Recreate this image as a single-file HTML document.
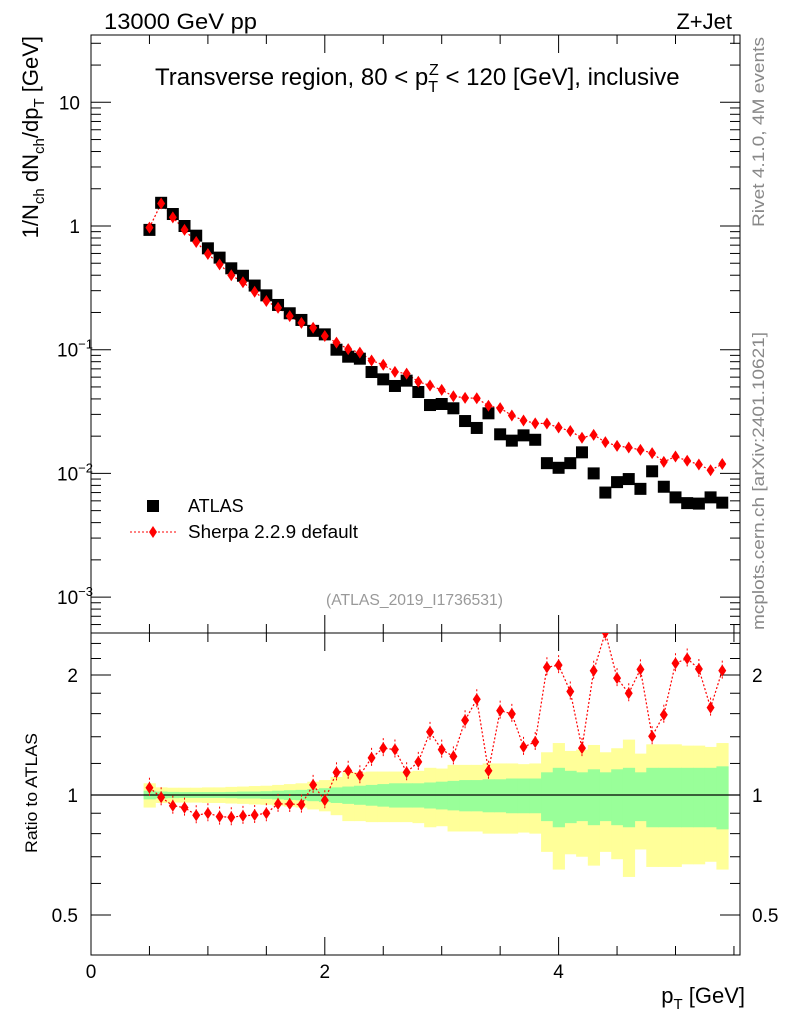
<!DOCTYPE html>
<html><head><meta charset="utf-8"><style>
body{margin:0;background:#fff}
svg{display:block;font-family:"Liberation Sans",sans-serif}
</style></head><body>
<svg id="chart" width="786" height="1024" viewBox="0 0 786 1024" xmlns="http://www.w3.org/2000/svg">
<defs>
<clipPath id="mainClip"><rect x="91" y="35" width="649" height="598"/></clipPath>
<clipPath id="ratioClip"><rect x="91" y="633" width="649" height="322"/></clipPath>
</defs>
<g id="bands" clip-path="url(#ratioClip)"></g>
<rect x="91" y="35" width="649" height="598" fill="none" stroke="#000" stroke-width="1"/>
<rect x="91" y="633" width="649" height="322" fill="none" stroke="#000" stroke-width="1"/>
<line x1="91" x2="740" y1="795" y2="795" stroke="#000" stroke-width="1.2"/>
<g id="ticks"></g>
<g id="mainMarks" clip-path="url(#mainClip)"></g>
<g id="ratioMarks" clip-path="url(#ratioClip)"></g>
<text x="104" y="29" font-size="22" textLength="153" lengthAdjust="spacingAndGlyphs">13000 GeV pp</text>
<text x="732" y="29" font-size="22" text-anchor="end">Z+Jet</text>
<text x="155" y="85" font-size="24">Transverse region, 80 &lt; p<tspan font-size="16" dy="7">T</tspan><tspan font-size="16" dx="-9" dy="-17">Z</tspan><tspan dy="10"> &lt; 120 [GeV], inclusive</tspan></text>
<text transform="translate(38,36) rotate(-90)" font-size="22" text-anchor="end">1/N<tspan font-size="15" dy="6">ch</tspan><tspan dy="-6"> dN</tspan><tspan font-size="15" dy="6">ch</tspan><tspan dy="-6">/dp</tspan><tspan font-size="15" dy="6">T</tspan><tspan dy="-6"> [GeV]</tspan></text>
<text transform="translate(764,227) rotate(-90)" font-size="17" fill="#888" textLength="190" lengthAdjust="spacingAndGlyphs">Rivet 4.1.0,  4M events</text>
<text transform="translate(764,630) rotate(-90)" font-size="17" fill="#888" textLength="298" lengthAdjust="spacingAndGlyphs">mcplots.cern.ch [arXiv:2401.10621]</text>
<text x="326" y="605" font-size="16" fill="#999" textLength="177" lengthAdjust="spacingAndGlyphs">(ATLAS_2019_I1736531)</text>
<rect x="147" y="500" width="12" height="12" fill="#000"/>
<text x="188" y="512" font-size="18">ATLAS</text>
<line x1="130" x2="177" y1="532" y2="532" stroke="#f00" stroke-dasharray="2,2"/>
<polygon points="153,526 157,532 153,538 149,532" fill="#f00"/>
<text x="188" y="538" font-size="18" textLength="170" lengthAdjust="spacingAndGlyphs">Sherpa 2.2.9 default</text>
<text transform="translate(37,853) rotate(-90)" font-size="17" textLength="120" lengthAdjust="spacingAndGlyphs">Ratio to ATLAS</text>
<text x="745" y="1003" font-size="22" text-anchor="end">p<tspan font-size="15" dy="6">T</tspan><tspan dy="-6"> [GeV]</tspan></text>
</svg>
<script>
const xCenters=[0.5,0.6,0.7,0.8,0.9,1.0,1.1,1.2,1.3,1.4,1.5,1.6,1.7,1.8,1.9,2.0,2.1,2.2,2.3,2.4,2.5,2.6,2.7,2.8,2.9,3.0,3.1,3.2,3.3,3.4,3.5,3.6,3.7,3.8,3.9,4.0,4.1,4.2,4.3,4.4,4.5,4.6,4.7,4.8,4.9,5.0,5.1,5.2,5.3,5.4];
const atlas=[0.93,1.54,1.25,1.0,0.835,0.66,0.555,0.455,0.396,0.33,0.275,0.23,0.197,0.174,0.142,0.133,0.1,0.0878,0.0846,0.066,0.0576,0.0509,0.0562,0.0455,0.0357,0.0364,0.0336,0.0265,0.0233,0.0306,0.0207,0.0184,0.0203,0.0187,0.0121,0.0111,0.0121,0.0148,0.0100,0.0070,0.0085,0.0090,0.0075,0.0104,0.0078,0.0064,0.00575,0.0057,0.0064,0.0058];
const sherpa=[0.97,1.52,1.175,0.93,0.743,0.594,0.49,0.40,0.351,0.294,0.2475,0.2185,0.187,0.1646,0.1505,0.129,0.114,0.101,0.0948,0.0818,0.0755,0.0662,0.0641,0.0551,0.0514,0.0473,0.042,0.0408,0.0405,0.0352,0.0337,0.0294,0.0268,0.0254,0.0253,0.0235,0.022,0.0194,0.0205,0.0179,0.0167,0.0162,0.0155,0.0146,0.0124,0.0137,0.01265,0.0118,0.0106,0.0119];
const errTotal=[0.07,0.045,0.043,0.043,0.043,0.045,0.045,0.048,0.05,0.053,0.055,0.06,0.065,0.07,0.08,0.09,0.11,0.14,0.14,0.145,0.145,0.145,0.145,0.15,0.17,0.165,0.19,0.19,0.19,0.2,0.2,0.2,0.195,0.2,0.28,0.35,0.29,0.3,0.335,0.28,0.31,0.377,0.27,0.34,0.34,0.34,0.33,0.33,0.32,0.35];
const errStat=[0.025,0.02,0.018,0.017,0.017,0.017,0.017,0.018,0.02,0.02,0.022,0.025,0.028,0.03,0.035,0.04,0.045,0.05,0.055,0.06,0.065,0.07,0.07,0.07,0.075,0.08,0.085,0.09,0.09,0.095,0.095,0.1,0.1,0.1,0.14,0.17,0.15,0.14,0.16,0.14,0.16,0.17,0.14,0.17,0.17,0.17,0.17,0.17,0.17,0.18];
const xTickLabels=[0,2,4];
const mainTickExps=[1,0,-1,-2,-3];
const ratioTickLabels=[2,1,0.5];

const NS="http://www.w3.org/2000/svg";
const X=v=>91+v*116.9;
const Y=v=>226-123.7*Math.log10(v);
const R=v=>795-120*Math.log2(v);
const bw=0.1;
function mk(tag,attrs,parent){const e=document.createElementNS(NS,tag);for(const k in attrs)e.setAttribute(k,attrs[k]);parent.appendChild(e);return e;}
const bands=document.getElementById('bands'),ticks=document.getElementById('ticks');
const mm=document.getElementById('mainMarks'),rm=document.getElementById('ratioMarks');

xCenters.forEach((x,i)=>{
  const y=mk('rect',{x:X(x-bw/2),y:R(1+errTotal[i]),width:X(x+bw/2)-X(x-bw/2)+0.5,height:R(1-errTotal[i])-R(1+errTotal[i]),fill:'#ffff99'},bands);
  
  
});
xCenters.forEach((x,i)=>{
  const g=mk('rect',{x:X(x-bw/2),y:R(1+errStat[i]),width:X(x+bw/2)-X(x-bw/2)+0.5,height:R(1-errStat[i])-R(1+errStat[i]),fill:'#99ff99'},bands);
  
  
});

function tick(x1,y1,x2,y2){mk('line',{x1,y1,x2,y2,stroke:'#000','stroke-width':1},ticks);}
for(let v=0;v<=5.5;v+=0.5){const big=(Math.abs(v%2)<1e-6);const L=big?18:9;const x=X(v);
  tick(x,633,x,633-L);tick(x,35,x,35+L);tick(x,955,x,955-L);tick(x,633,x,633+L);}
xTickLabels.forEach(v=>{const t=mk('text',{x:X(v),y:978,'font-size':19,'text-anchor':'middle'},ticks);t.textContent=v;
  
  });
for(let e=-4;e<=1;e++){for(let m=1;m<10;m++){const v=m*Math.pow(10,e);const y=Y(v);if(y<35||y>633)continue;const L=m==1?20:10;
  tick(91,y,91+L,y);tick(740,y,740-L,y);}}
mainTickExps.forEach(e=>{const y=Y(Math.pow(10,e));const t=mk('text',{x:e>=0?80:57,y:y+7,'font-size':19,'text-anchor':e>=0?'end':'start'},ticks);
  if(e==1)t.textContent='10';else if(e==0)t.textContent='1';
  else{t.textContent='10';const s=mk('tspan',{'font-size':13,dy:-8},t);s.textContent=String(e).replace('-','\u2212');}
  
  });
[0.5,0.6,0.7,0.8,0.9,1,1.2,1.4,1.6,1.8,2,2.2,2.4].forEach(v=>{const y=R(v);const big=(v==0.5||v==1||v==2);const L=big?20:10;
  tick(91,y,91+L,y);tick(740,y,740-L,y);});
ratioTickLabels.forEach(v=>{['end','start'].forEach(a=>{const t=mk('text',{x:a=='end'?78:752,y:R(v)+7,'font-size':19,'text-anchor':a},ticks);t.textContent=v;
  
  });});

mk('polyline',{points:xCenters.map((x,i)=>X(x)+','+Y(sherpa[i])).join(' '),fill:'none',stroke:'#f00','stroke-width':1.2,'stroke-dasharray':'2,2'},mm);
xCenters.forEach((x,i)=>{
  const s=mk('rect',{x:X(x)-6,y:Y(atlas[i])-6,width:12,height:12,fill:'#000'},mm);
  
  
});
xCenters.forEach((x,i)=>{const cx=X(x),cy=Y(sherpa[i]);
  const d=mk('polygon',{points:`${cx},${cy-6} ${cx+4},${cy} ${cx},${cy+6} ${cx-4},${cy}`,fill:'#f00'},mm);
  
  
});
const ratio=sherpa.map((s,i)=>s/atlas[i]);
mk('polyline',{points:xCenters.map((x,i)=>X(x)+','+R(ratio[i])).join(' '),fill:'none',stroke:'#f00','stroke-width':1.2,'stroke-dasharray':'2,2'},rm);
xCenters.forEach((x,i)=>{const cx=X(x),cy=R(ratio[i]);
  const eb=mk('line',{x1:cx,x2:cx,y1:cy-10,y2:cy+10,stroke:'#f00','stroke-dasharray':'2,2'},rm);
  
  
  const d=mk('polygon',{points:`${cx},${cy-6} ${cx+4},${cy} ${cx},${cy+6} ${cx-4},${cy}`,fill:'#f00'},rm);
  
  
});
</script>
</body></html>
